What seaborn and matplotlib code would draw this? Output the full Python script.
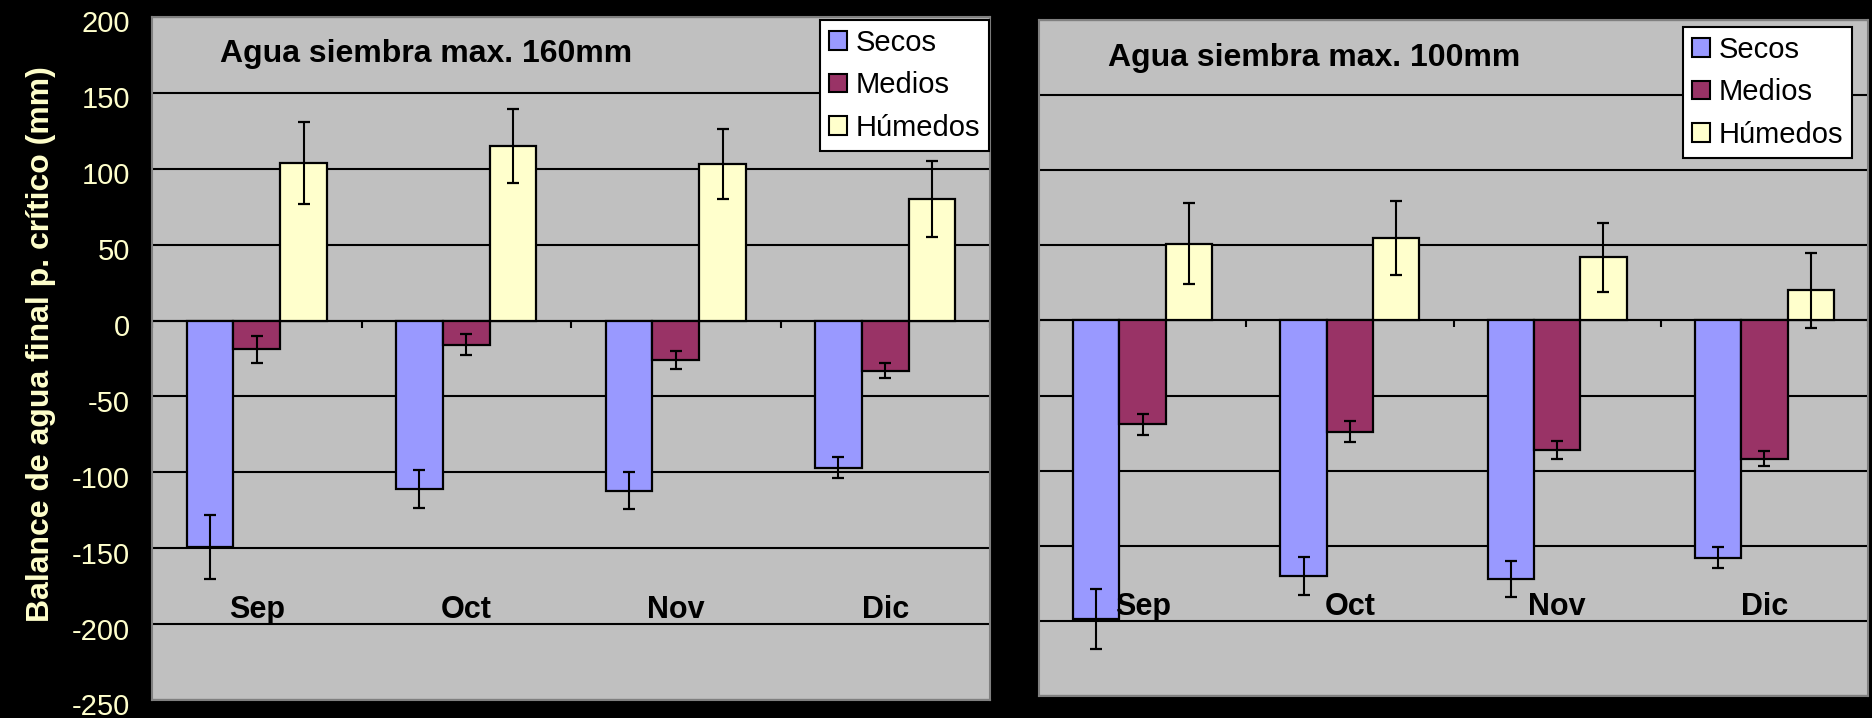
import numpy as np
import pandas as pd
import matplotlib
matplotlib.use("Agg")
import matplotlib.pyplot as plt
import matplotlib.patches as mpatches
import matplotlib.transforms as mtransforms
import seaborn as sns

# Months (category axis) and rainfall groups (series)
meses = ["Sep", "Oct", "Nov", "Dic"]
grupos = ["Secos", "Medios", "Húmedos"]

# Final water balance at the critical period (mm), sowing water max. 160 mm
secos_160 = [-149, -111, -112, -97]
medios_160 = [-19, -16, -26, -33]
humedos_160 = [104, 115, 103, 80]
err_secos_160 = [21, 12.5, 12, 7]
err_medios_160 = [9, 7, 6, 5]
err_humedos_160 = [27, 24.5, 23, 25]

# Same balance with sowing water max. 100 mm
secos_100 = [-199, -170, -172, -158]
medios_100 = [-69, -74, -86, -92]
humedos_100 = [51, 55, 42, 20]
err_secos_100 = [20, 12.5, 12, 7]
err_medios_100 = [7, 7, 6, 5]
err_humedos_100 = [27, 24.5, 23, 25]

titulos = ["Agua siembra max. 160mm", "Agua siembra max. 100mm"]
y_label = "Balance de agua final p. crítico (mm)"
y_ticks = list(range(-250, 201, 50))

colores = ["#9999FF", "#993366", "#FFFFCC"]
fondo = "#C0C0C0"
texto_claro = "#FFFFCC"

sns.set_theme(style="white")
plt.rcParams["font.family"] = ["Liberation Sans", "DejaVu Sans"]
plt.rcParams["axes.unicode_minus"] = False


def tabla(secos, medios, humedos):
    filas = []
    for g, vals in zip(grupos, [secos, medios, humedos]):
        for m, v in zip(meses, vals):
            filas.append({"mes": m, "grupo": g, "valor": v})
    return pd.DataFrame(filas)


paneles = [
    dict(df=tabla(secos_160, medios_160, humedos_160),
         errs=[err_secos_160, err_medios_160, err_humedos_160],
         rect=[152 / 1872, 1 - 700 / 718, 838 / 1872, 683 / 718],
         titulo_pos=(0.081, 0.934),
         leyenda_pos=(0.9988, 0.9956),
         etiquetas_y=True),
    dict(df=tabla(secos_100, medios_100, humedos_100),
         errs=[err_secos_100, err_medios_100, err_humedos_100],
         rect=[1039 / 1872, 1 - 696 / 718, 829 / 1872, 676 / 718],
         titulo_pos=(0.083, 0.932),
         leyenda_pos=(0.9807, 0.9896),
         etiquetas_y=False),
]

fig = plt.figure(figsize=(18.72, 7.18), dpi=100)
fig.patch.set_facecolor("black")

for i, p in enumerate(paneles):
    ax = fig.add_axes(p["rect"])
    ax.set_facecolor(fondo)
    sns.barplot(data=p["df"], x="mes", y="valor", hue="grupo",
                order=meses, hue_order=grupos, palette=colores,
                saturation=1, width=0.67, errorbar=None,
                edgecolor="black", linewidth=1.6, legend=False, ax=ax)

    # Error bars centred on each bar, taken from the bar geometry
    for cont, errs in zip(ax.containers, p["errs"]):
        for bar, e in zip(cont, errs):
            xc = bar.get_x() + bar.get_width() / 2
            yv = bar.get_y() + bar.get_height()
            ax.errorbar(xc, yv, yerr=e, fmt="none", ecolor="black",
                        elinewidth=1.5, capsize=4.4, capthick=1.6, zorder=3)

    ax.set_xlim(-0.5, len(meses) - 0.5)
    ax.set_ylim(y_ticks[0], y_ticks[-1])
    ax.set_yticks(y_ticks)
    ax.yaxis.grid(True, color="black", linewidth=1.5)
    ax.xaxis.grid(False)
    ax.set_axisbelow(True)
    ax.set_xlabel("")
    ax.set_ylabel("")
    ax.set_xticks([])

    for s in ax.spines.values():
        s.set_color("#808080")
        s.set_linewidth(1.5)

    if p["etiquetas_y"]:
        ax.tick_params(axis="y", length=0, pad=16, labelsize=21,
                       labelcolor=texto_claro)
        # value labels sit slightly below their gridlines
        bajar = mtransforms.ScaledTranslation(0, -3.2 / 72, fig.dpi_scale_trans)
        for lab in ax.get_yticklabels():
            lab.set_transform(lab.get_transform() + bajar)
    else:
        ax.tick_params(axis="y", length=0, labelleft=False)

    # Category axis crossing at zero, with tick marks between months
    y0, y1 = ax.get_ylim()
    eje = ax.secondary_xaxis((0 - y0) / (y1 - y0))
    eje.set_xticks(np.arange(len(meses) + 1) - 0.5)
    eje.set_xticklabels([])
    eje.xaxis.set_ticks_position("bottom")
    eje.tick_params(axis="x", which="both", length=5, width=1.5,
                    color="black", direction="out",
                    labelbottom=False, labeltop=False)
    for s in eje.spines.values():
        s.set_visible(False)
    eje.spines["bottom"].set_visible(True)
    eje.spines["bottom"].set_color("black")
    eje.spines["bottom"].set_linewidth(1.5)

    for k, m in enumerate(meses):
        ax.text(k, -196, m, ha="center", va="baseline", fontsize=22,
                fontweight="bold", color="black")

    ax.text(*p["titulo_pos"], titulos[i], transform=ax.transAxes,
            ha="left", va="baseline", fontsize=23, fontweight="bold",
            color="black")

    handles = [mpatches.Patch(facecolor=c, edgecolor="black", linewidth=1.5,
                              label=g) for g, c in zip(grupos, colores)]
    leg = ax.legend(handles=handles, loc="upper right",
                    bbox_to_anchor=p["leyenda_pos"], borderaxespad=0,
                    fontsize=21, frameon=True, fancybox=False, framealpha=1,
                    facecolor="white", edgecolor="black",
                    handlelength=0.62, handleheight=0.6, handletextpad=0.3,
                    labelspacing=0.5, borderpad=0.3)
    leg.get_frame().set_linewidth(1.5)
    for t in leg.get_texts():
        t.set_color("black")

fig.text(41 / 1872, 1 - 344.5 / 718, y_label, rotation=90, ha="center",
         va="center", fontsize=23, fontweight="bold", color=texto_claro)

fig.savefig("out.png", dpi=100, facecolor="black")
